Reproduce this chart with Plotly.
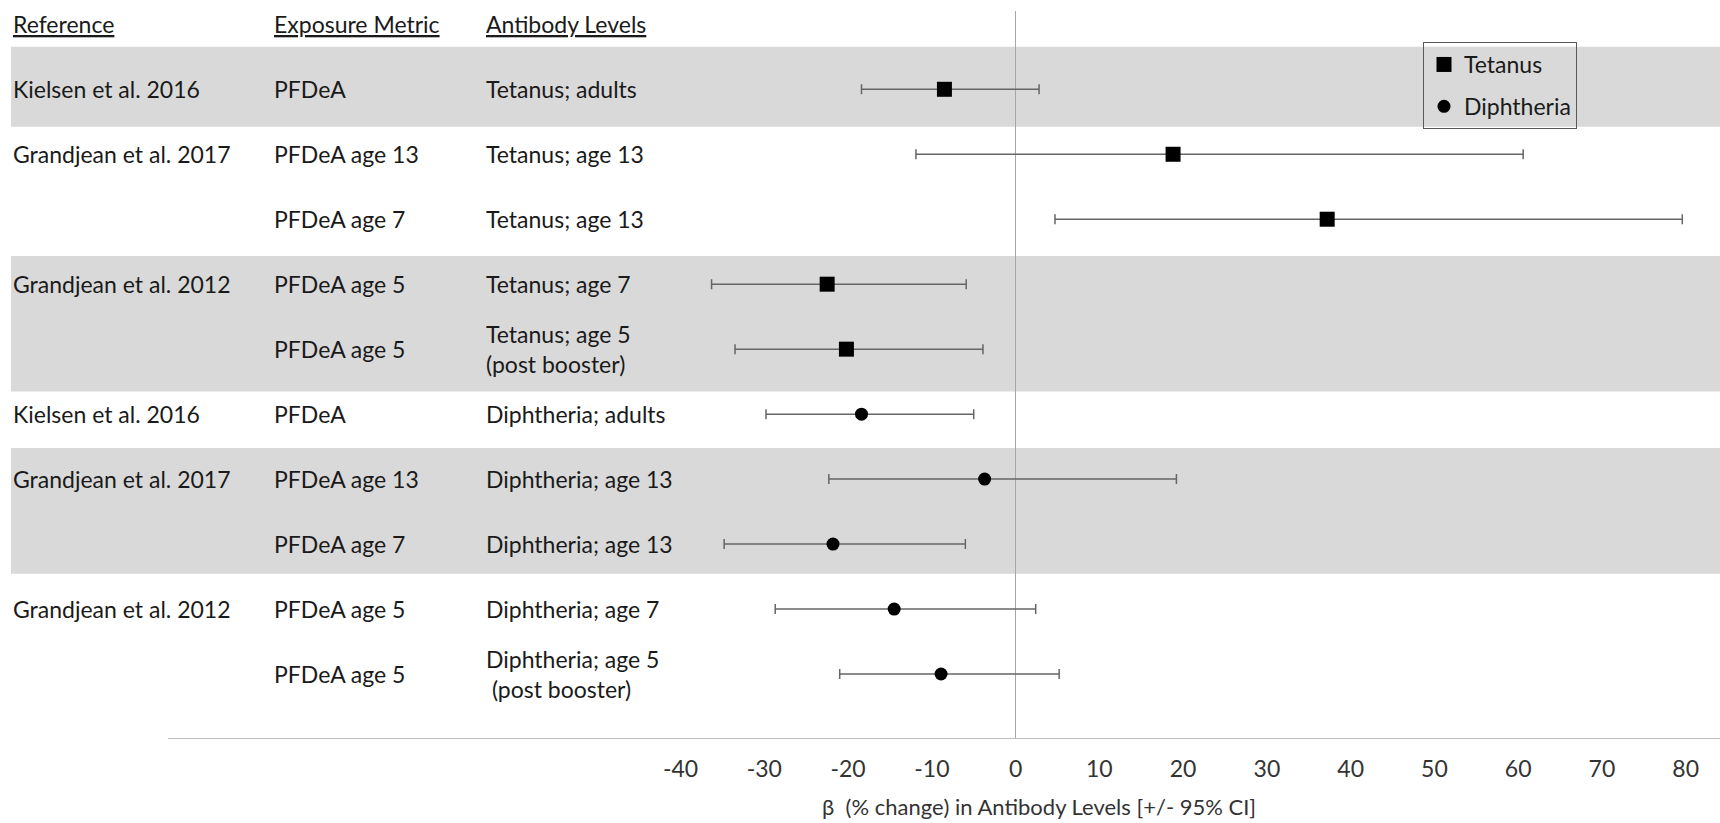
import plotly.graph_objects as go

# ---------------- data ----------------
references = ["Kielsen et al. 2016", "Grandjean et al. 2017", "", "Grandjean et al. 2012", "",
              "Kielsen et al. 2016", "Grandjean et al. 2017", "", "Grandjean et al. 2012", ""]
exposures = ["PFDeA", "PFDeA age 13", "PFDeA age 7", "PFDeA age 5", "PFDeA age 5",
             "PFDeA", "PFDeA age 13", "PFDeA age 7", "PFDeA age 5", "PFDeA age 5"]
antibodies = ["Tetanus; adults", "Tetanus; age 13", "Tetanus; age 13", "Tetanus; age 7",
              "Tetanus; age 5<br>(post booster)",
              "Diphtheria; adults", "Diphtheria; age 13", "Diphtheria; age 13", "Diphtheria; age 7",
              "Diphtheria; age 5<br>\u00a0(post booster)"]
outcomes = ["Tetanus"] * 5 + ["Diphtheria"] * 5
estimate = [-8.5, 18.8, 37.2, -22.5, -20.2, -18.4, -3.7, -21.8, -14.5, -8.9]
lower = [-18.4, -11.9, 4.7, -36.3, -33.5, -29.8, -22.3, -34.8, -28.7, -21.0]
upper = [2.8, 60.6, 79.6, -5.9, -3.9, -5.0, 19.2, -6.0, 2.4, 5.2]
headers = ["Reference", "Exposure Metric", "Antibody Levels"]
tick_values = [-40, -30, -20, -10, 0, 10, 20, 30, 40, 50, 60, 70, 80]
tick_labels = ["-40", "-30", "-20", "-10", "0", "10", "20", "30", "40", "50", "60", "70", "80"]
x_title = "β\u00a0 (% change) in Antibody Levels [+/- 95% CI]"

# ---------------- layout constants ----------------
W, H = 1720, 823
ML, MR, MT, MB = 168, 0, 11, 85
PW = W - ML - MR
PH = H - MT - MB
FONT = "Lato"
FS = 23
TXT = "#1a1a1a"
band_rows = [(0.345, 1.575), (3.565, 5.652), (6.523, 8.457)]
col_px = [11, 272, 484]

rows = list(range(1, len(estimate) + 1))


def px_to_paper_x(px):
    return (px - ML) / PW


def px_to_paper_y(py):
    return 1 - (py - MT) / PH


fig = go.Figure()

symbols = {"Tetanus": ("square", 15), "Diphtheria": ("circle", 13)}
for name in ["Tetanus", "Diphtheria"]:
    idx = [k for k, o in enumerate(outcomes) if o == name]
    xs = [estimate[k] for k in idx]
    ys = [rows[k] for k in idx]
    ep = [upper[k] - estimate[k] for k in idx]
    em = [estimate[k] - lower[k] for k in idx]
    sym, sz = symbols[name]
    fig.add_trace(go.Scatter(
        x=xs, y=ys, mode="markers", name=name, legendgroup=name,
        marker=dict(symbol=sym, size=sz, color="black", line=dict(width=0)),
        error_x=dict(type="data", symmetric=False, array=ep, arrayminus=em,
                     color="#666666", thickness=1.5, width=5),
    ))

# shaded bands
for y0, y1 in band_rows:
    fig.add_shape(type="rect", xref="paper", yref="y",
                  x0=px_to_paper_x(11), x1=1.0, y0=y0, y1=y1,
                  fillcolor="#d9d9d9", line=dict(width=0), layer="below")

annotations = []
for c, h in enumerate(headers):
    annotations.append(dict(x=px_to_paper_x(col_px[c]), y=0, xref="paper", yref="y",
                            text=f"<u>{h}</u>", showarrow=False, xanchor="left",
                            align="left", font=dict(family=FONT, size=FS, color=TXT)))
for r, ref, exp, ab in zip(rows, references, exposures, antibodies):
    for c, t in enumerate([ref, exp, ab]):
        if not t:
            continue
        annotations.append(dict(x=px_to_paper_x(col_px[c]), y=r, xref="paper", yref="y",
                                text=t, showarrow=False, xanchor="left", align="left",
                                font=dict(family=FONT, size=FS, color=TXT)))
annotations.append(dict(x=px_to_paper_x(1039), y=px_to_paper_y(806),
                        xref="paper", yref="paper", text=x_title, showarrow=False,
                        xanchor="center", yanchor="middle",
                        font=dict(family=FONT, size=22, color="#333333")))

fig.update_layout(
    width=W, height=H,
    margin=dict(l=ML, r=MR, t=MT, b=MB),
    paper_bgcolor="white", plot_bgcolor="rgba(0,0,0,0)",
    font=dict(family=FONT, size=FS, color=TXT),
    xaxis=dict(range=[-101.2, 84.1], tickvals=tick_values, ticktext=tick_labels,
               showgrid=False, zeroline=True, zerolinecolor="#a6a6a6", zerolinewidth=1,
               showline=True, linecolor="#bfbfbf", linewidth=1, ticks="",
               ticklabelstandoff=10,
               tickfont=dict(family=FONT, size=FS, color="#333333")),
    yaxis=dict(range=[10.985, -0.205], showticklabels=False, showgrid=False,
               zeroline=False, showline=False, ticks=""),
    showlegend=True,
    legend=dict(x=px_to_paper_x(1577), y=px_to_paper_y(42),
                xanchor="right", yanchor="top", bgcolor="rgba(0,0,0,0)",
                bordercolor="#595959", borderwidth=1, tracegroupgap=9,
                traceorder="grouped", font=dict(family=FONT, size=FS, color=TXT)),
    annotations=annotations,
)

fig.write_html("out.html", config={"displayModeBar": False},
               post_script="document.body.style.margin='0';")
